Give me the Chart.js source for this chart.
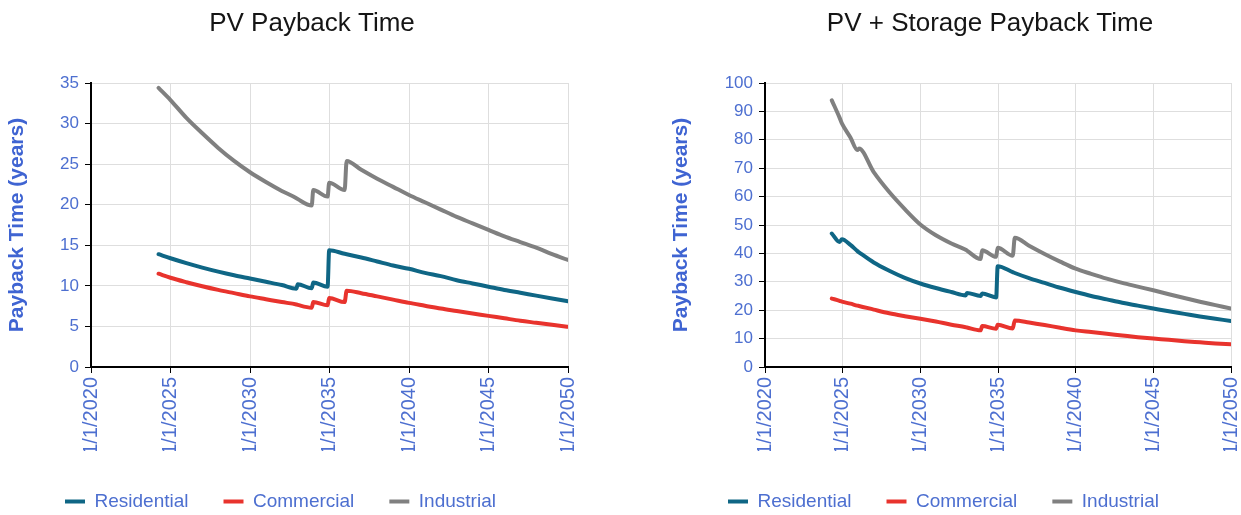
<!DOCTYPE html>
<html>
<head>
<meta charset="utf-8">
<script src="https://cdn.jsdelivr.net/npm/chart.js@4.4.0/dist/chart.umd.min.js"></script>
<style>
  html, body { margin: 0; padding: 0; background: #fff; }
  body { width: 1241px; height: 515px; position: relative; overflow: hidden; }
  .box { position: absolute; top: 0; height: 515px; }
  #pvBox { left: 0; width: 600px; }
  #stBox { left: 620px; width: 621px; }
  canvas { display: block; }
</style>
</head>
<body>
<div class="box" id="pvBox"><canvas id="pv" width="600" height="515"></canvas></div>
<div class="box" id="stBox"><canvas id="st" width="621" height="515"></canvas></div>
<script>
// ---- data -------------------------------------------------------------
const seriesNames = ['Residential', 'Commercial', 'Industrial'];
const xTickYears = [2020, 2025, 2030, 2035, 2040, 2045, 2050];

// PV only (decimal years)
const pvYears = [2024.25, 2025, 2026, 2027, 2028, 2029, 2030, 2031, 2032, 2032.92, 2033.0,
  2033.88, 2033.98, 2034.88, 2034.98, 2035.95, 2036.08, 2037, 2038, 2039, 2040,
  2041, 2042, 2043, 2044, 2045, 2046, 2047, 2048, 2049, 2050];
const pvResidential = [13.9, 13.4, 12.8, 12.25, 11.75, 11.3, 10.9, 10.5, 10.1, 9.65, 10.2,
  9.7, 10.4, 9.9, 14.4, 13.95, 13.9, 13.5, 13.0, 12.5, 12.1,
  11.6, 11.2, 10.7, 10.3, 9.9, 9.5, 9.15, 8.8, 8.45, 8.1];
const pvCommercial = [11.5, 11.0, 10.45, 9.95, 9.5, 9.1, 8.7, 8.35, 8.0, 7.7, 7.65,
  7.3, 8.0, 7.6, 8.5, 8.0, 9.4, 9.1, 8.7, 8.3, 7.9,
  7.55, 7.2, 6.9, 6.6, 6.3, 6.0, 5.7, 5.45, 5.2, 4.95];
const pvIndustrial = [34.4, 32.9, 30.7, 28.8, 27.0, 25.4, 24.0, 22.8, 21.7, 20.8, 20.7,
  19.9, 21.8, 21.0, 22.7, 21.8, 25.4, 24.3, 23.2, 22.2, 21.2,
  20.3, 19.4, 18.5, 17.7, 16.9, 16.1, 15.4, 14.7, 13.9, 13.2];

// PV + storage (decimal years)
const stYears = [2024.3, 2024.8, 2024.95, 2025.5, 2025.95, 2026.05, 2027, 2028, 2029, 2030,
  2031, 2032, 2032.92, 2033.0, 2033.88, 2033.98, 2034.88, 2034.98, 2035.95, 2036.08,
  2037, 2038, 2039, 2040, 2041, 2042, 2043, 2044, 2045, 2046, 2047, 2048, 2049, 2050];
const stResidential = [47.0, 44.0, 45.0, 43.0, 40.8, 40.4, 36.8, 33.9, 31.4, 29.4,
  27.8, 26.4, 25.2, 26.1, 25.0, 25.9, 24.5, 35.5, 33.4, 33.1,
  31.3, 29.6, 27.9, 26.4, 25.0, 23.8, 22.6, 21.6, 20.6, 19.6, 18.7, 17.8, 17.0, 16.2];
const stCommercial = [24.1, 23.3, 23.0, 22.3, 21.6, 21.5, 20.2, 18.9, 17.9, 17.0,
  16.0, 14.9, 14.0, 13.9, 12.9, 14.4, 13.5, 14.9, 13.6, 16.4,
  15.7, 14.8, 13.8, 12.9, 12.3, 11.7, 11.1, 10.5, 10.0, 9.6, 9.1, 8.7, 8.3, 8.0];
const stIndustrial = [93.9, 87.8, 85.8, 80.8, 76.4, 76.9, 68.6, 61.6, 55.6, 50.2,
  46.4, 43.5, 41.3, 41.0, 38.0, 41.1, 38.8, 42.0, 39.2, 45.5,
  42.7, 39.8, 37.1, 34.6, 32.8, 31.1, 29.6, 28.3, 27.0, 25.6, 24.3, 23.0, 21.8, 20.6];

// ---- styling ----------------------------------------------------------
const LINE_COLORS = ['#0f6685', '#e8332d', '#808080'];
const TEXT_BLUE = '#4d6fd0';
const AXIS_TITLE_BLUE = '#3f64d2';
const GRID = '#dedede';

Chart.defaults.font.family = "'Liberation Sans', Arial, sans-serif";

// moves the title and legend blocks to their spots after layout
function placeBlocks(titleX, legendX, legendDY) {
  return {
    id: 'placeBlocks',
    afterLayout(chart) {
      const t = chart.titleBlock;
      const dx = titleX - (t.left + t.right) / 2;
      t.left += dx; t.right += dx;
      const lg = chart.legend;
      const ldx = legendX - (lg.left + lg.options.labels.padding);
      lg.left += ldx; lg.right += ldx;
      lg.top += legendDY; lg.bottom += legendDY;
    }
  };
}

function buildChart(id, cfg) {
  const datasets = seriesNames.map((name, k) => ({
    label: name,
    data: cfg.years.map((x, i) => ({ x: x, y: cfg.values[k][i] })),
    borderColor: LINE_COLORS[k],
    backgroundColor: LINE_COLORS[k],
    borderWidth: 4,
    pointRadius: 0,
    cubicInterpolationMode: 'monotone',
    fill: false,
    borderJoinStyle: 'round',
    borderCapStyle: 'round'
  }));
  const plotBottom = 367;
  return new Chart(document.getElementById(id), {
    type: 'line',
    data: { datasets },
    options: {
      responsive: false,
      animation: false,
      events: [],
      layout: { padding: { left: 0, right: cfg.rightPad, top: 0, bottom: 0 } },
      scales: {
        x: {
          type: 'linear',
          min: xTickYears[0],
          max: xTickYears[xTickYears.length - 1],
          afterBuildTicks: s => { s.ticks = xTickYears.map(v => ({ value: v })); },
          ticks: {
            autoSkip: false, minRotation: 90, maxRotation: 90, padding: 4,
            color: TEXT_BLUE, font: { size: 20 },
            callback: v => '1/1/' + v
          },
          grid: { color: GRID, lineWidth: 1, tickColor: '#000', tickLength: 6 },
          border: { color: '#000', width: 2 },
          afterFit: s => {
            s.height = (515 - plotBottom) - s.chart.legend.height;
            s.paddingLeft = 0; s.paddingRight = 0;
          }
        },
        y: {
          min: 0,
          max: cfg.yMax,
          ticks: { stepSize: cfg.yStep, padding: 6, color: TEXT_BLUE, font: { size: 17 } },
          grid: { color: GRID, lineWidth: 1, tickColor: '#000', tickLength: 6 },
          border: { color: '#000', width: 2 },
          title: {
            display: true, text: 'Payback Time (years)', color: AXIS_TITLE_BLUE,
            font: { size: 21, weight: 'bold' }, padding: { top: cfg.yTitlePad, bottom: 0 }
          },
          afterFit: s => { s.width = cfg.yAxisWidth; }
        }
      },
      plugins: {
        title: {
          display: true, text: cfg.title, color: '#151515',
          font: { size: 26, weight: 'normal' }, padding: { top: 8, bottom: 43.8 }
        },
        legend: {
          position: 'bottom',
          align: 'start',
          labels: {
            boxWidth: 20, boxHeight: 4, padding: 35, color: TEXT_BLUE, font: { size: 19 },
            generateLabels: chart => Chart.defaults.plugins.legend.labels.generateLabels(chart)
              .map(item => Object.assign(item, { lineWidth: 0 }))
          }
        },
        tooltip: { enabled: false }
      }
    },
    plugins: [placeBlocks(cfg.titleX, cfg.legendX, cfg.legendDY)]
  });
}

buildChart('pv', {
  title: 'PV Payback Time',
  years: pvYears,
  values: [pvResidential, pvCommercial, pvIndustrial],
  yMax: 35, yStep: 5,
  yAxisWidth: 91, yTitlePad: 5, rightPad: 32,
  titleX: 312, legendX: 65, legendDY: 6
});

buildChart('st', {
  title: 'PV + Storage Payback Time',
  years: stYears,
  values: [stResidential, stCommercial, stIndustrial],
  yMax: 100, yStep: 10,
  yAxisWidth: 145, yTitlePad: 49, rightPad: 10,
  titleX: 370, legendX: 108, legendDY: 6
});
</script>
</body>
</html>
